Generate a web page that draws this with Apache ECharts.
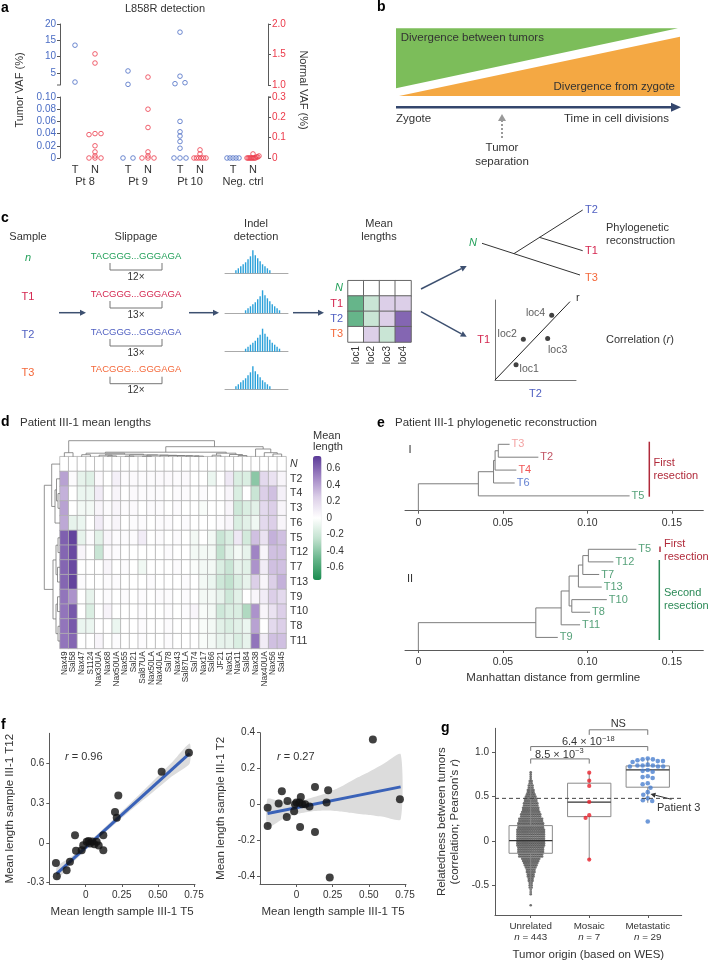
<!DOCTYPE html>
<html><head><meta charset="utf-8">
<script src="https://cdn.jsdelivr.net/npm/echarts@6/dist/echarts.min.js"></script>
<style>html,body{margin:0;padding:0;background:#fff}#c{width:711px;height:962px}</style>
</head><body><div id="c"></div>
<script>
const FONT = '"Liberation Sans", Arial, sans-serif';
const TXT = '#333333', AX = '#5a5a5a', BLUE = '#4a6cc4', RED = '#ec3a4a';

// ================= DATA =================
// Panel a
const aGroupNames = ['Pt 8', 'Pt 9', 'Pt 10', 'Neg. ctrl'];
const aGroupCenters = [1.25, 3.9, 6.5, 9.15];
const aSubLabels = ['T', 'N'];
const aTumorHigh = [[13.5, 2.2], [5.6, 1.5], [17.5, 4.0, 1.7, 2.0], []];
const aTumorLow = [[], [0, 0], [0.06, 0.043, 0.036, 0.027, 0.016, 0, 0, 0], [0, 0, 0, 0, 0]];
const aNormalHigh = [[1.51, 1.36], [1.13], [], []];
const aNormalLow = [[0.12, 0.12, 0.115, 0.06, 0.03, 0.01, 0, 0, 0], [0.24, 0.15, 0.03, 0.01, 0, 0, 0], [0.04, 0.02, 0, 0, 0, 0, 0, 0], [0.02, 0.01, 0.005, 0.005, 0, 0, 0, 0, 0, 0, 0, 0]];
const aTumorHighTicks = [5, 10, 15, 20];
const aTumorLowTicks = [0, 0.02, 0.04, 0.06, 0.08, 0.10];
const aNormalHighTicks = [1.0, 1.5, 2.0];
const aNormalLowTicks = [0, 0.1, 0.2, 0.3];

// Panel c
const cSamples = ['n', 'T1', 'T2', 'T3'];
const cSampleColors = ['#23a05a', '#d4264f', '#4f5fc1', '#f4683a'];
const cRepeats = ['12×', '13×', '13×', '12×'];
const cHist = [
  [0,0,0,0,3,5,7,9,11,14,17,23,18,15,12,9,7,5,3,0,0,0,0,0,0,0],
  [0,0,0,0,0,0,0,0,3,5,7,9,11,14,17,23,18,15,12,9,7,5,3,0,0,0],
  [0,0,0,0,0,0,0,0,3,5,7,9,11,14,17,23,18,15,12,9,7,5,3,0,0,0],
  [0,0,0,0,3,5,7,9,11,14,17,23,18,15,12,9,7,5,3,0,0,0,0,0,0,0]
];
const cLoci = ['loc1', 'loc2', 'loc3', 'loc4'];
const cRows = ['N', 'T1', 'T2', 'T3'];
const cMeanLen = [[0, 0, 0, 0], [-0.5, -0.22, 0.25, 0.25], [-0.5, -0.22, 0.25, 0.6], [0, 0.25, -0.22, 0.6]];
const cLocX = [0.26, 0.35, 0.65, 0.70];
const cLocY = [0.19, 0.51, 0.52, 0.81];

// Panel d
const dCols = ['Nax49','Sal58','Nax47','S1124','Nax30UA','Nax68','Nax50UA','Nax55','Sal21','Sal87UA','Nax50LA','Nax40LA','Sal78','Nax43','Sal87LA','Sal74','Nax17','Sal66','JF21','Nax51','Nax11','Sal84','Nax38','Nax40UA','Nax56','Sal45'];
const dRows = ['N','T2','T4','T3','T6','T5','T12','T7','T13','T9','T10','T8','T11'];
const dValues = [
  [0,0,0,0,0,0,0,0,0,0,0,0,0,0,0,0,0,0,0,0,0,0,0,0,0,0],
  [0.40,0.02,-0.10,-0.13,0.03,0.00,0.08,0.02,0.03,0.02,0.02,0.03,0.03,0.02,0.03,0.00,0.00,-0.08,0.00,0.12,-0.15,-0.15,-0.40,0.20,0.15,0.05],
  [0.35,0.00,-0.08,-0.08,0.10,0.00,0.05,0.00,0.03,0.02,0.02,0.02,0.00,0.02,0.02,0.00,0.02,0.00,0.00,0.05,-0.15,0.00,-0.22,0.25,0.30,0.08],
  [0.40,0.00,-0.05,-0.05,0.05,0.02,0.05,0.02,0.03,0.00,0.02,0.02,0.00,0.02,0.00,0.00,-0.03,0.00,0.00,0.05,-0.20,-0.15,-0.12,0.20,0.25,0.05],
  [0.38,-0.10,-0.08,0.00,0.10,0.02,0.05,0.00,0.02,0.02,0.00,0.02,0.02,0.00,0.02,0.00,0.00,0.00,0.02,0.05,-0.15,-0.12,-0.06,0.20,0.25,0.05],
  [0.62,0.72,-0.10,0.02,-0.12,0.05,0.02,0.02,0.02,0.10,0.00,0.02,0.00,0.02,0.00,-0.05,0.00,-0.05,-0.22,-0.15,0.12,-0.18,0.30,0.15,0.35,0.30],
  [0.60,0.70,0.05,0.00,-0.22,0.03,0.02,0.00,0.00,0.00,0.00,0.00,0.02,0.00,0.00,-0.05,-0.05,-0.05,-0.25,-0.12,-0.05,-0.10,0.50,0.05,0.30,0.30],
  [0.60,0.70,0.00,0.00,0.00,0.05,0.00,0.02,0.00,-0.06,0.00,0.00,0.00,0.02,0.00,-0.02,-0.05,-0.05,-0.15,-0.22,-0.10,-0.12,0.45,0.10,0.30,0.30],
  [0.60,0.72,0.02,0.00,0.00,0.02,0.02,0.00,0.00,0.00,0.02,0.00,0.00,0.00,0.02,0.00,-0.05,-0.08,-0.20,-0.25,-0.15,-0.10,0.25,0.05,0.25,0.35],
  [0.55,0.45,0.00,-0.10,0.00,0.02,0.00,0.02,0.00,0.02,0.00,0.02,0.02,0.00,0.02,0.00,-0.05,-0.05,-0.10,-0.20,-0.12,0.00,0.05,0.10,0.25,0.20],
  [0.55,0.65,0.00,-0.15,0.00,0.06,0.00,0.00,0.00,0.02,0.00,0.00,0.02,0.00,0.02,0.05,-0.03,-0.05,-0.20,-0.15,-0.15,-0.30,0.45,0.05,0.15,0.25],
  [0.55,0.65,-0.08,-0.08,0.00,0.00,-0.08,0.00,0.00,0.02,0.00,0.00,0.02,0.00,0.00,0.00,-0.03,-0.05,-0.12,-0.15,-0.12,-0.08,0.40,0.00,0.20,0.25],
  [0.55,0.60,0.00,0.00,0.05,0.00,0.02,0.00,0.00,0.02,0.00,0.00,0.02,0.00,0.00,0.00,-0.03,-0.05,-0.10,-0.10,-0.15,-0.10,0.55,0.10,0.30,0.30]
];
const dScaleTicks = [-0.6, -0.4, -0.2, 0, 0.2, 0.4, 0.6];
const dColTree = [16, [4, 0, 1], [10,
  [4.5,
    [3.5, [2.0, 2, 3], [2.5, [1.5, 4, [0.8, 5, 6]], [1.8, [0.6, 7, 8], [1.6, [0.5, 9, 10], [1.4, 11, [1.2, 12, [1.0, 13, [0.8, 14, [0.6, 15, 16]]]]]]]]],
    [3.5, [1.5, 17, 18], [2.2, 19, [1.2, 20, 21]]]],
  [7.7, 22, [4, 23, [2.7, 24, 25]]]]];
const dRowTree = [15.7, [8.3, 0, [5, [3.5, 1, [2, 2, 3]], 4]], [7, [4, [2, 5, 6], [2.5, 7, 8]], [4, [2.5, 9, 10], [2, 11, 12]]]];

// Panel e
const eTicks = [0, 0.05, 0.10, 0.15];
const eTreeILeaves = ['T3', 'T2', 'T4', 'T6', 'T5'];
const eTreeIEnds = [0.054, 0.071, 0.058, 0.057, 0.125];
const eTreeIColors = ['#f08c8c', '#b2283c', '#ee2a2a', '#3d62c6', '#2b8a57'];
const eTreeI = [0.0355, [0.0445, [0.0454, [0.0473, 0, 1], 2], 3], 4];
const eTreeIILeaves = ['T5', 'T12', 'T7', 'T13', 'T10', 'T8', 'T11', 'T9'];
const eTreeIIEnds = [0.129, 0.1154, 0.107, 0.1085, 0.1115, 0.1016, 0.0957, 0.0825];
const eTreeII = [0.0695, [0.0845, [0.0892, [0.0947, [0.0973, [0.1006, 0, 1], 2], 3], [0.0908, 4, 5]], 6], 7];

// Panel f
const fXTicks = [0, 0.25, 0.5, 0.75];
const fLeftYTicks = [-0.3, 0, 0.3, 0.6];
const fRightYTicks = [-0.4, -0.2, 0, 0.2, 0.4];
const fLeftX = [0.715,0.526,0.226,0.203,0.215,0.122,0.122,-0.074,-0.067,-0.028,-0.017,0.007,0.030,0.076,-0.206,-0.200,-0.132,-0.109,0.020,0.045,0.060,0.090];
const fLeftY = [0.680,0.537,0.358,0.234,0.189,0.058,-0.055,0.058,-0.060,-0.055,-0.017,0.008,-0.004,0.008,-0.151,-0.252,-0.206,-0.143,0.015,0.010,-0.010,-0.020];
const fRightX = [-0.199,-0.199,-0.101,-0.123,-0.067,-0.062,-0.016,-0.010,0.000,0.020,0.030,0.040,0.060,0.090,0.128,0.219,0.208,0.025,0.128,0.230,0.528,0.715];
const fRightY = [-0.019,-0.121,0.073,0.004,-0.071,0.018,-0.039,0.000,0.010,0.010,0.040,0.000,0.000,-0.012,0.097,0.078,0.010,-0.127,-0.155,-0.410,0.362,0.028];
const fFitX = [-0.2, 0.72];
const fLeftFitY = [-0.231, 0.675];
const fRightFitY = [-0.052, 0.097];
const fCIX = [-0.2, -0.1, 0, 0.1, 0.2, 0.3, 0.4, 0.5, 0.6, 0.72];
const fLeftCILo = [-0.28, -0.16, -0.055, 0.045, 0.14, 0.235, 0.325, 0.415, 0.505, 0.60];
const fLeftCIHi = [-0.18, -0.105, -0.013, 0.085, 0.186, 0.289, 0.395, 0.503, 0.61, 0.75];
const fRightCILo = [-0.13, -0.085, -0.055, -0.04, -0.035, -0.04, -0.05, -0.06, -0.07, -0.085];
const fRightCIHi = [0.03, 0.015, 0.015, 0.035, 0.06, 0.095, 0.14, 0.18, 0.225, 0.28];

// Panel g
const gCats = ['Unrelated', 'Mosaic', 'Metastatic'];
const gN = [443, 7, 29];
const gYTicks = [-0.5, 0, 0.5, 1.0];
const gBoxStats = [[-0.60, -0.139, 0.003, 0.173, 0.65], [-0.214, 0.274, 0.437, 0.651, 0.77], [0.43, 0.606, 0.801, 0.846, 0.93]];
const gUnrelBins = [0.775,0.75,0.725,0.70,0.675,0.65,0.625,0.60,0.575,0.55,0.525,0.50,0.475,0.45,0.425,0.40,0.375,0.35,0.325,0.30,0.275,0.25,0.225,0.20,0.175,0.15,0.125,0.10,0.075,0.05,0.025,0.0,-0.025,-0.05,-0.075,-0.10,-0.125,-0.15,-0.175,-0.20,-0.225,-0.25,-0.275,-0.30,-0.325,-0.35,-0.375,-0.40,-0.425,-0.45,-0.475,-0.50,-0.525,-0.55,-0.575,-0.60,-0.725];
const gUnrelCounts = [1,1,1,1,2,2,3,3,4,4,5,6,7,7,8,8,9,9,10,11,11,13,13,14,14,14,15,15,15,15,15,15,15,15,14,14,14,13,13,10,9,8,7,6,5,5,4,4,3,3,2,2,2,1,1,1,1];
const gMosaic = [0.77, 0.68, 0.62, 0.44, 0.29, 0.26, -0.21];
const gMeta = [0.93,0.92,0.92,0.91,0.90,0.90,0.89,0.86,0.85,0.85,0.85,0.84,0.84,0.84,0.80,0.79,0.78,0.73,0.72,0.71,0.65,0.64,0.60,0.55,0.52,0.48,0.46,0.45,0.22];
const gThreshold = 0.48;

// ================= HELPERS =================
const grids = [], xAxes = [], yAxes = [], series = [], G = [];
function grid(l, t, w, h) { grids.push({left: l, top: t, width: w, height: h, outerBoundsMode: 'none', containLabel: false, show: false}); return grids.length - 1; }
function ax(arr, o) { arr.push(o); return arr.length - 1; }
function hidV(g, min, max, extra) { return Object.assign({type: 'value', gridIndex: g, min, max, show: false, splitLine: {show: false}}, extra || {}); }
function visV(g, min, max, o) {
  return {type: 'value', gridIndex: g, min, max, position: o.pos, offset: o.offset || 0, inverse: !!o.inverse,
    axisLine: {show: o.line !== false, onZero: false, lineStyle: {color: AX, width: 1}},
    axisTick: {show: o.tick !== false, length: o.tickLen || 3, customValues: o.ticks, lineStyle: {color: AX, width: 1}},
    axisLabel: {show: true, customValues: o.ticks, formatter: o.fmt, color: o.color || TXT, fontSize: o.fs || 10, fontFamily: FONT,
      margin: o.margin == null ? 4 : o.margin, rich: o.rich, lineHeight: o.lh, showMinLabel: true, showMaxLabel: true},
    splitLine: {show: false},
    name: o.name || '', nameLocation: 'middle', nameGap: o.nameGap || 20,
    nameTextStyle: {color: TXT, fontSize: o.nameFs || 11, fontFamily: FONT, rich: o.nameRich, lineHeight: o.nameLh}};
}
function T(x, y, text, o) {
  o = o || {};
  return {type: 'text', x, y, rotation: o.rot || 0, silent: true, z: 100,
    style: {text, fill: o.color || TXT, fontSize: o.size || 11, fontFamily: FONT, fontWeight: o.weight || 'normal',
      fontStyle: o.italic ? 'italic' : 'normal', align: o.align || 'left', verticalAlign: o.va || 'middle', rich: o.rich, lineHeight: o.lh}};
}
function arrow(x1, y1, x2, y2, color, w, hl, hw, dash) {
  const a = Math.atan2(y2 - y1, x2 - x1);
  const bx = x2 - hl * Math.cos(a), by = y2 - hl * Math.sin(a);
  const px = -Math.sin(a) * hw, py = Math.cos(a) * hw;
  return [{type: 'line', silent: true, shape: {x1, y1, x2: bx, y2: by}, style: {stroke: color, lineWidth: w, lineDash: dash || null}},
    {type: 'polygon', silent: true, shape: {points: [[x2, y2], [bx + px, by + py], [bx - px, by - py]]}, style: {fill: color}}];
}
function polySeries(xi, yi, segs, style, z) {
  return {type: 'custom', xAxisIndex: xi, yAxisIndex: yi, silent: true, z: z || 2, clip: false,
    data: segs.map(s => [s[0][0], s[0][1]]),
    renderItem: (p, api) => ({type: 'polyline', shape: {points: segs[p.dataIndex].map(c => api.coord(c))},
      style: Object.assign({fill: null, stroke: '#888', lineWidth: 1}, style)})};
}
function dendroSegs(tree, swap) {
  const segs = [];
  function walk(n) {
    if (typeof n === 'number') return {p: n, h: 0};
    const A = walk(n[1]), B = walk(n[2]);
    let s = [[A.p, A.h], [A.p, n[0]], [B.p, n[0]], [B.p, B.h]];
    if (swap) s = s.map(c => [c[1], c[0]]);
    segs.push(s);
    return {p: (A.p + B.p) / 2, h: n[0]};
  }
  walk(tree); return segs;
}
function treeSegs(tree, ends, stemTo) {
  const segs = [];
  function walk(n) {
    if (typeof n === 'number') return {x: ends[n], y: n};
    const A = walk(n[1]), B = walk(n[2]);
    segs.push([[A.x, A.y], [n[0], A.y], [n[0], B.y], [B.x, B.y]]);
    return {x: n[0], y: (A.y + B.y) / 2};
  }
  const r = walk(tree);
  segs.push([[r.x, r.y], [0, r.y], [0, stemTo]]);
  return segs;
}
function jitterCol(vals, center, ppu) {
  const idx = vals.map((v, i) => i).sort((a, b) => vals[a] - vals[b]);
  const out = []; let cl = [];
  const flush = () => { const n = cl.length; const step = n > 1 ? Math.min(10, 12 / (n - 1)) : 0;
    cl.forEach((i, k) => out.push([center + ((k - (n - 1) / 2) * step) / 20, vals[i]])); cl = []; };
  idx.forEach(i => { if (cl.length && Math.abs(vals[i] - vals[cl[cl.length - 1]]) * ppu >= 2) flush(); cl.push(i); });
  if (cl.length) flush();
  return out;
}
function swarm(vals, ppy, d) {
  const order = vals.map((v, i) => i).sort((a, b) => vals[b] - vals[a]);
  const placed = [], out = new Array(vals.length);
  for (const i of order) {
    const y = vals[i] * ppy; const ints = [];
    for (const p of placed) { const dy = Math.abs(p.y - y); if (dy < d) { const w = Math.sqrt(d * d - dy * dy); ints.push([p.x - w, p.x + w]); } }
    const cands = [0]; ints.forEach(t => cands.push(t[0], t[1]));
    cands.sort((a, b) => Math.abs(a) - Math.abs(b));
    let x = 0;
    for (const c of cands) { if (!ints.some(t => c > t[0] + 1e-6 && c < t[1] - 1e-6)) { x = c; break; } }
    placed.push({x, y}); out[i] = x;
  }
  return out;
}
const HEAT = ['#1a8d50', '#66b58a', '#c2e2cf', '#ffffff', '#dccfe8', '#a084c4', '#5b3a98'];

// ================= PANEL A =================
const gA0 = grid(60, 24, 208, 61), gA1 = grid(60, 97, 208, 61);
const xA0 = ax(xAxes, hidV(gA0, 0, 10.4));
const yA0L = ax(yAxes, visV(gA0, 1.3, 20, {pos: 'left', ticks: aTumorHighTicks, fmt: v => String(v), color: BLUE}));
const yA0R = ax(yAxes, visV(gA0, 1.0, 2.0, {pos: 'right', ticks: aNormalHighTicks, fmt: v => v.toFixed(1), color: RED}));
const aTN = []; aGroupCenters.forEach(c => { aTN.push(c - 0.5, c + 0.5); });
const xA1 = ax(xAxes, visV(gA1, 0, 10.4, {pos: 'bottom', line: false, tick: false, ticks: aTN,
  fmt: v => aSubLabels[Math.max(0, aTN.findIndex(t => Math.abs(t - v) < 1e-6)) % 2], fs: 11, margin: 6}));
const xA1b = ax(xAxes, visV(gA1, 0, 10.4, {pos: 'bottom', offset: 12, line: false, tick: false, ticks: aGroupCenters,
  fmt: v => aGroupNames[Math.max(0, aGroupCenters.findIndex(t => Math.abs(t - v) < 1e-6))], fs: 11, margin: 6}));
const yA1L = ax(yAxes, visV(gA1, 0, 0.1, {pos: 'left', ticks: aTumorLowTicks, fmt: v => v === 0 ? '0' : v.toFixed(2), color: BLUE}));
const yA1R = ax(yAxes, visV(gA1, 0, 0.3, {pos: 'right', ticks: aNormalLowTicks, fmt: v => v === 0 ? '0' : v.toFixed(1), color: RED}));
function aPts(groups, off, ppu) { const d = []; groups.forEach((vals, gi) => d.push(...jitterCol(vals, aGroupCenters[gi] + off, ppu))); return d; }
function hollow(xi, yi, data, color) {
  return {type: 'scatter', xAxisIndex: xi, yAxisIndex: yi, data, symbol: 'circle', symbolSize: 4.6, clip: false, silent: true, z: 5,
    itemStyle: {color: 'rgba(0,0,0,0)', borderColor: color, borderWidth: 1}};
}
series.push(hollow(xA0, yA0L, aPts(aTumorHigh, -0.5, 61 / 18.7), BLUE));
series.push(hollow(xA0, yA0R, aPts(aNormalHigh, 0.5, 61), RED));
series.push(hollow(xA1, yA1L, aPts(aTumorLow, -0.5, 610), BLUE));
series.push(hollow(xA1, yA1R, aPts(aNormalLow, 0.5, 203), RED));
G.push({type: 'line', silent: true, shape: {x1: 57, y1: 85, x2: 60, y2: 85}, style: {stroke: AX, lineWidth: 1}});
G.push({type: 'line', silent: true, shape: {x1: 268, y1: 97, x2: 271, y2: 97}, style: {stroke: AX, lineWidth: 1}});
G.push(T(1, 8, 'a', {weight: 'bold', size: 14, color: '#000'}));
G.push(T(165, 9, 'L858R detection', {align: 'center', size: 11}));
G.push(T(20, 90, 'Tumor VAF (%)', {align: 'center', rot: Math.PI / 2, color: TXT, size: 11}));
G.push(T(303, 90, 'Normal VAF (%)', {align: 'center', rot: -Math.PI / 2, color: TXT, size: 11}));

// ================= PANEL B =================
G.push({type: 'polygon', silent: true, shape: {points: [[396, 28.3], [678, 28.3], [396, 88.3]]}, style: {fill: '#7cbd5a'}});
G.push({type: 'polygon', silent: true, shape: {points: [[399, 96], [680, 36.7], [680, 96]]}, style: {fill: '#f4a843'}});
G.push(T(400.7, 37.5, 'Divergence between tumors', {size: 11.5}));
G.push(T(675, 87, 'Divergence from zygote', {size: 11.5, align: 'right'}));
G.push(...arrow(396, 107.3, 681, 107.3, '#34466d', 2.5, 10, 4.5));
G.push(T(396, 119, 'Zygote', {size: 11.5}));
G.push(T(669, 119, 'Time in cell divisions', {size: 11.5, align: 'right'}));
G.push(...arrow(502, 138, 502, 114, '#999', 2, 7, 4, [2, 2]));
G.push(T(502, 148.3, 'Tumor', {size: 11.5, align: 'center'}));
G.push(T(502, 161.7, 'separation', {size: 11.5, align: 'center'}));
G.push(T(377, 7, 'b', {weight: 'bold', size: 14, color: '#000'}));

// ================= PANEL C =================
G.push(T(1, 218.3, 'c', {weight: 'bold', size: 14, color: '#000'}));
G.push(T(28, 236.7, 'Sample', {align: 'center', size: 11}));
G.push(T(136, 236.7, 'Slippage', {align: 'center', size: 11}));
G.push(T(256, 224, 'Indel', {align: 'center', size: 11}));
G.push(T(256, 236.7, 'detection', {align: 'center', size: 11}));
G.push(T(379, 224, 'Mean', {align: 'center', size: 11}));
G.push(T(379, 236.7, 'lengths', {align: 'center', size: 11}));
const cSeqY = [256, 294, 332, 369.7];
cSamples.forEach((s, i) => {
  const sy = [258.3, 296.7, 335, 373.3][i];
  G.push(T(28, sy, s, {align: 'center', size: 11, color: cSampleColors[i], italic: s === 'n'}));
  const y = cSeqY[i];
  G.push(T(136, y, 'TACGGG...GGGAGA', {align: 'center', size: 9.5, color: cSampleColors[i]}));
  G.push({type: 'polyline', silent: true, shape: {points: [[110, y + 7], [110, y + 14], [162, y + 14], [162, y + 7]]}, style: {stroke: '#777', lineWidth: 1, fill: null}});
  G.push(T(136, y + 21, cRepeats[i], {align: 'center', size: 10}));
});
G.push(...arrow(59, 312.7, 86, 312.7, '#3d5070', 1.5, 6, 3));
G.push(...arrow(189, 312.7, 219, 312.7, '#3d5070', 1.5, 6, 3));
G.push(...arrow(293, 312.7, 324, 312.7, '#3d5070', 1.5, 6, 3));
G.push(...arrow(421, 289, 466.7, 266, '#3d5070', 1.5, 6, 3));
G.push(...arrow(421, 311.7, 466.7, 336.7, '#3d5070', 1.5, 6, 3));
const cHistBase = [273.3, 313.3, 351.7, 389.3];
const cSlots = cHist[0].map((v, i) => String(i));
cHist.forEach((h, i) => {
  const g = grid(225, cHistBase[i] - 23, 63, 23);
  const xi = ax(xAxes, {type: 'category', gridIndex: g, data: cSlots, axisLine: {show: true, onZero: false, lineStyle: {color: '#aaa', width: 1}}, axisTick: {show: false}, axisLabel: {show: false}, splitLine: {show: false}});
  const yi = ax(yAxes, hidV(g, 0, 23));
  series.push({type: 'bar', xAxisIndex: xi, yAxisIndex: yi, data: h, barWidth: 1.4, silent: true, itemStyle: {color: '#2aa1da'}});
});
const gCH = grid(348, 280.7, 63, 61.3);
const xCH = ax(xAxes, {type: 'category', gridIndex: gCH, data: cLoci, axisLine: {show: false}, axisTick: {show: false}, splitLine: {show: false},
  axisLabel: {rotate: 90, fontSize: 10, color: TXT, fontFamily: FONT, margin: 4, interval: 0}});
const cRowRich = {}; cRows.forEach((r, i) => { cRowRich['r' + i] = {color: cSampleColors[i], fontSize: 11, fontFamily: FONT, fontStyle: r === 'N' ? 'italic' : 'normal'}; });
const yCH = ax(yAxes, {type: 'category', gridIndex: gCH, data: cRows, inverse: true, axisLine: {show: false}, axisTick: {show: false}, splitLine: {show: false},
  axisLabel: {fontSize: 11, margin: 5, formatter: (v, i) => '{r' + cRows.indexOf(v) + '|' + v + '}', rich: cRowRich}});
const cHeatData = []; cMeanLen.forEach((row, r) => row.forEach((v, c) => cHeatData.push([c, r, v])));
const sCH = series.length;
series.push({type: 'heatmap', xAxisIndex: xCH, yAxisIndex: yCH, data: cHeatData, silent: true, itemStyle: {borderColor: '#666', borderWidth: 1}});
const gCC = grid(495, 300, 81, 80);
const xCC = ax(xAxes, {type: 'value', gridIndex: gCC, min: 0, max: 1, axisLine: {show: true, onZero: false, lineStyle: {color: '#777'}}, axisTick: {show: false}, axisLabel: {show: false}, splitLine: {show: false},
  name: 'T2', nameLocation: 'middle', nameGap: 8, nameTextStyle: {color: cSampleColors[2], fontSize: 11, fontFamily: FONT}});
const yCC = ax(yAxes, {type: 'value', gridIndex: gCC, min: 0, max: 1, axisLine: {show: true, onZero: false, lineStyle: {color: '#777'}}, axisTick: {show: false}, axisLabel: {show: false}, splitLine: {show: false},
  name: 'T1', nameLocation: 'middle', nameGap: 5, nameRotate: 0, nameTextStyle: {color: cSampleColors[1], fontSize: 11, fontFamily: FONT, align: 'right'}});
series.push({type: 'line', xAxisIndex: xCC, yAxisIndex: yCC, data: [[0, 0], [0.926, 0.98]], symbol: 'none', silent: true, lineStyle: {color: '#222', width: 1},
  endLabel: {show: true, formatter: 'r', fontSize: 11, color: TXT, offset: [-2, -4]}});
const cLabPos = [{position: 'right', offset: [-3, 4]}, {position: 'left', offset: [0, -5]}, {position: 'bottom', offset: [10, 0]}, {position: 'left', offset: [0, -2]}];
series.push({type: 'scatter', xAxisIndex: xCC, yAxisIndex: yCC, symbolSize: 5, silent: true, itemStyle: {color: '#111'},
  data: cLoci.map((n, i) => ({value: [cLocX[i], cLocY[i]], name: n, label: Object.assign({show: true, formatter: n, fontSize: 10.5, color: TXT, distance: 4}, cLabPos[i])}))});
G.push({type: 'line', silent: true, shape: {x1: 482, y1: 243.3, x2: 580, y2: 275}, style: {stroke: '#333', lineWidth: 1}});
G.push({type: 'line', silent: true, shape: {x1: 514, y1: 253.6, x2: 582.7, y2: 210}, style: {stroke: '#333', lineWidth: 1}});
G.push({type: 'line', silent: true, shape: {x1: 539.3, y1: 237.3, x2: 582.7, y2: 250.7}, style: {stroke: '#333', lineWidth: 1}});
G.push(T(477, 242.7, 'N', {align: 'right', italic: true, color: cSampleColors[0], size: 11}));
G.push(T(585, 210, 'T2', {color: cSampleColors[2], size: 11}));
G.push(T(585, 251, 'T1', {color: cSampleColors[1], size: 11}));
G.push(T(585, 278, 'T3', {color: cSampleColors[3], size: 11}));
G.push(T(606, 227.7, 'Phylogenetic', {size: 11}));
G.push(T(606, 240.7, 'reconstruction', {size: 11}));
G.push(T(606, 340, 'Correlation ({i|r})', {size: 11, rich: {i: {fontStyle: 'italic', fontSize: 11, fontFamily: FONT, fill: TXT}}}));

// ================= PANEL D =================
G.push(T(1, 422, 'd', {weight: 'bold', size: 14, color: '#000'}));
G.push(T(20, 422.7, 'Patient III-1 mean lengths', {size: 11.5}));
G.push(T(313, 435.7, 'Mean', {size: 11}));
G.push(T(313, 447.3, 'length', {size: 11}));
const gD = grid(60, 456.7, 226, 191.7);
const xD = ax(xAxes, {type: 'category', gridIndex: gD, data: dCols, axisLine: {show: false}, axisTick: {show: false}, splitLine: {show: false},
  axisLabel: {rotate: 90, fontSize: 8.2, color: TXT, fontFamily: FONT, margin: 3, interval: 0}});
const yD = ax(yAxes, {type: 'category', gridIndex: gD, data: dRows, inverse: true, position: 'right', axisLine: {show: false}, axisTick: {show: false}, splitLine: {show: false},
  axisLabel: {fontSize: 10.5, color: TXT, fontFamily: FONT, margin: 4, interval: 0, formatter: v => v === 'N' ? '{i|N}' : v, rich: {i: {fontStyle: 'italic', fontSize: 10.5, fontFamily: FONT, color: TXT}}}});
const dHeat = []; dValues.forEach((row, r) => row.forEach((v, c) => dHeat.push([c, r, v])));
const sD = series.length;
series.push({type: 'heatmap', xAxisIndex: xD, yAxisIndex: yD, data: dHeat, silent: true, itemStyle: {borderColor: '#b0b0b0', borderWidth: 0.8}});
const gDT = grid(60, 440.7, 226, 16);
const xDT = ax(xAxes, hidV(gDT, -0.5, 25.5)); const yDT = ax(yAxes, hidV(gDT, 0, 16));
series.push(polySeries(xDT, yDT, dendroSegs(dColTree, false), {stroke: '#777', lineWidth: 0.8}));
const gDL = grid(43, 456.7, 17, 191.7);
const xDL = ax(xAxes, hidV(gDL, 0, 17, {inverse: true})); const yDL = ax(yAxes, hidV(gDL, -0.5, 12.5, {inverse: true}));
series.push(polySeries(xDL, yDL, dendroSegs(dRowTree, true), {stroke: '#777', lineWidth: 0.8}));
const gDC = grid(313, 456, 8.5, 124);
ax(xAxes, hidV(gDC, 0, 1));
ax(yAxes, visV(gDC, -0.75, 0.75, {pos: 'right', line: false, tick: false, ticks: dScaleTicks, fmt: v => v === 0 ? '0' : v.toFixed(1), fs: 10, margin: 5}));

// ================= PANEL E =================
G.push(T(377, 422.7, 'e', {weight: 'bold', size: 14, color: '#000'}));
G.push(T(395, 422.7, 'Patient III-1 phylogenetic reconstruction', {size: 11.5}));
const eFmt = v => v === 0 ? '0' : v.toFixed(2);
function eTree(top, h, ymin, ymax, tree, ends, leaves, colors) {
  const g = grid(405, top, 298.3, h);
  const xi = ax(xAxes, visV(g, -0.0079, 0.1686, {pos: 'bottom', ticks: eTicks, fmt: eFmt, fs: 10.5, margin: 7, tickLen: 3}));
  const yi = ax(yAxes, hidV(g, ymin, ymax, {inverse: true}));
  series.push(polySeries(xi, yi, treeSegs(tree, ends, ymax), {stroke: '#7d7d7d', lineWidth: 1}));
  series.push({type: 'scatter', xAxisIndex: xi, yAxisIndex: yi, symbolSize: 0, silent: true, clip: false,
    data: leaves.map((n, i) => ({value: [ends[i], i], label: {show: true, position: 'right', distance: 2, formatter: n, color: colors[i], fontSize: 11, fontFamily: FONT}}))});
}
eTree(439.8, 70.9, -0.35, 5.15, eTreeI, eTreeIEnds, eTreeILeaves, eTreeIColors);
eTree(543, 107, -0.5, 8.0, eTreeII, eTreeIIEnds, eTreeIILeaves, eTreeIILeaves.map(() => '#2b8a57'));
G.push(T(410, 450, 'I', {size: 11, align: 'center'}));
G.push(T(410, 579.3, 'II', {size: 11, align: 'center'}));
const RES1 = '#b02a3a', RES2 = '#2b8a57';
G.push({type: 'line', silent: true, shape: {x1: 649.3, y1: 441.7, x2: 649.3, y2: 496.7}, style: {stroke: RES1, lineWidth: 1.5}});
G.push(T(653.5, 462.7, 'First', {color: RES1, size: 11}));
G.push(T(653.5, 475.7, 'resection', {color: RES1, size: 11}));
G.push({type: 'line', silent: true, shape: {x1: 660, y1: 546.5, x2: 660, y2: 552}, style: {stroke: RES1, lineWidth: 1.5}});
G.push(T(664, 544.3, 'First', {color: RES1, size: 11}));
G.push(T(664, 557, 'resection', {color: RES1, size: 11}));
G.push({type: 'line', silent: true, shape: {x1: 659.3, y1: 560, x2: 659.3, y2: 640}, style: {stroke: RES2, lineWidth: 1.5}});
G.push(T(664, 593.3, 'Second', {color: RES2, size: 11}));
G.push(T(664, 606, 'resection', {color: RES2, size: 11}));
G.push(T(553.3, 678.3, 'Manhattan distance from germline', {align: 'center', size: 11.5}));

// ================= PANEL F =================
G.push(T(1, 725, 'f', {weight: 'bold', size: 14, color: '#000'}));
const fxFmt = v => v === 0 ? '0' : v.toFixed(2);
const fyFmt = v => v === 0 ? '0' : v.toFixed(1);
function fPanel(l, t, w, h, ymin, ymax, yTicks, yName, xs, ys, fitY, ciLo, ciHi, rText, rX) {
  const g = grid(l, t, w, h);
  const xi = ax(xAxes, visV(g, -0.252, 0.757, {pos: 'bottom', ticks: fXTicks, fmt: fxFmt, fs: 10, margin: 6, tickLen: 3, name: 'Mean length sample III-1 T5', nameGap: 22, nameFs: 11.5}));
  const yi = ax(yAxes, visV(g, ymin, ymax, {pos: 'left', ticks: yTicks, fmt: fyFmt, fs: 10, margin: 5, tickLen: 3, name: yName, nameGap: 33, nameFs: 11.5}));
  series.push({type: 'custom', xAxisIndex: xi, yAxisIndex: yi, silent: true, z: 1, clip: false, data: [[0, 0]],
    renderItem: (p, api) => { const pts = []; fCIX.forEach((x, i) => pts.push(api.coord([x, ciHi[i]])));
      for (let i = fCIX.length - 1; i >= 0; i--) pts.push(api.coord([fCIX[i], ciLo[i]]));
      return {type: 'polygon', shape: {points: pts, smooth: 0.2}, style: {fill: '#dcdcdc'}}; }});
  series.push({type: 'line', xAxisIndex: xi, yAxisIndex: yi, data: fFitX.map((x, i) => [x, fitY[i]]), symbol: 'none', silent: true, z: 3, lineStyle: {color: '#3a62b8', width: 3}});
  series.push({type: 'scatter', xAxisIndex: xi, yAxisIndex: yi, data: xs.map((x, i) => [x, ys[i]]), symbolSize: 8, silent: true, z: 4, clip: false, itemStyle: {color: '#111'}});
  G.push(T(rX, 756.7, '{i|r} = ' + rText, {size: 11, rich: {i: {fontStyle: 'italic', fontSize: 11, fontFamily: FONT, fill: TXT}}}));
}
fPanel(49.3, 733.3, 145.7, 150.7, -0.31, 0.827, fLeftYTicks, 'Mean length sample III-1 T12', fLeftX, fLeftY, fLeftFitY, fLeftCILo, fLeftCIHi, '0.96', 65);
fPanel(260, 732.7, 146, 151.3, -0.446, 0.4, fRightYTicks, 'Mean length sample III-1 T2', fRightX, fRightY, fRightFitY, fRightCILo, fRightCIHi, '0.27', 277);

// ================= PANEL G =================
G.push(T(441, 728.3, 'g', {weight: 'bold', size: 14, color: '#000'}));
const gG = grid(495, 728.3, 186.7, 186.7);
const gXs = [0, 1, 2];
const xG = ax(xAxes, visV(gG, -0.61, 2.58, {pos: 'bottom', ticks: gXs, tickLen: 3, fs: 9.8, margin: 6, lh: 11,
  fmt: v => { const i = Math.round(v); return gCats[i] + '\n{i|n} = ' + gN[i]; },
  rich: {i: {fontStyle: 'italic', fontSize: 9.8, fontFamily: FONT, color: TXT, lineHeight: 11}},
  name: 'Tumor origin (based on WES)', nameGap: 34, nameFs: 11.5}));
const yG = ax(yAxes, visV(gG, -0.835, 1.27, {pos: 'left', ticks: gYTicks, fs: 10, margin: 6, tickLen: 3,
  fmt: v => v === 0 ? '0' : v.toFixed(1),
  name: 'Relatedness between tumors\n(correlation; Pearson\'s {i|r})', nameGap: 34, nameFs: 11.5, nameLh: 13,
  nameRich: {i: {fontStyle: 'italic', fontSize: 11.5, fontFamily: FONT, color: TXT}}}));
const gPxX = 58.5, gPxY = 88.6;
const unrel = [];
gUnrelBins.forEach((b, i) => { const n = gUnrelCounts[i]; for (let k = 0; k < n; k++) unrel.push([gXs[0] + (k - (n - 1) / 2) * 1.9 / gPxX, b]); });
series.push({type: 'scatter', xAxisIndex: xG, yAxisIndex: yG, data: unrel, symbolSize: 2.6, silent: true, z: 2, clip: false, itemStyle: {color: '#4d4d4d'}});
series.push({type: 'custom', xAxisIndex: xG, yAxisIndex: yG, silent: true, z: 3, clip: false,
  data: gBoxStats.map((s, i) => [gXs[i], ...s]),
  renderItem: (p, api) => {
    const x = api.value(0), lo = api.value(1), q1 = api.value(2), md = api.value(3), q3 = api.value(4), hi = api.value(5), hw = 0.37;
    const a = api.coord([x - hw, q3]), b = api.coord([x + hw, q1]);
    const c1 = api.coord([x, lo]), c2 = api.coord([x, q1]), c3 = api.coord([x, q3]), c4 = api.coord([x, hi]);
    const m1 = api.coord([x - hw, md]), m2 = api.coord([x + hw, md]);
    const st = {stroke: '#8a8a8a', lineWidth: 1};
    return {type: 'group', children: [
      {type: 'line', shape: {x1: c1[0], y1: c1[1], x2: c2[0], y2: c2[1]}, style: st},
      {type: 'line', shape: {x1: c3[0], y1: c3[1], x2: c4[0], y2: c4[1]}, style: st},
      {type: 'rect', shape: {x: a[0], y: a[1], width: b[0] - a[0], height: b[1] - a[1]}, style: {fill: 'transparent', stroke: '#8a8a8a', lineWidth: 1}},
      {type: 'line', shape: {x1: m1[0], y1: m1[1], x2: m2[0], y2: m2[1]}, style: {stroke: '#333', lineWidth: 1.3}}]};
  }});
const mosOff = swarm(gMosaic, gPxY, 4.5);
series.push({type: 'scatter', xAxisIndex: xG, yAxisIndex: yG, data: gMosaic.map((v, i) => [gXs[1] + mosOff[i] / gPxX, v]), symbolSize: 4.2, silent: true, z: 4, clip: false, itemStyle: {color: '#e8202a'}});
const metOff = swarm(gMeta, gPxY, 5.2);
series.push({type: 'scatter', xAxisIndex: xG, yAxisIndex: yG, data: gMeta.map((v, i) => [gXs[2] + metOff[i] / gPxX, v]), symbolSize: 4.6, silent: true, z: 4, clip: false, itemStyle: {color: '#4a7fd0'}});
series.push({type: 'line', xAxisIndex: xG, yAxisIndex: yG, data: [[-0.61, gThreshold], [2.58, gThreshold]], symbol: 'none', silent: true, z: 5, lineStyle: {color: '#444', width: 1, type: [4, 3]}});
const gBr = [[[0, 0.872], [0, 0.925], [1, 0.925], [1, 0.872]], [[0, 1.016], [0, 1.064], [2, 1.064], [2, 1.016]], [[1, 1.196], [1, 1.253], [2, 1.253], [2, 1.196]]];
series.push(polySeries(xG, yG, gBr, {stroke: '#777', lineWidth: 1}, 5));
const supRich = {b: {fontSize: 11, fontFamily: FONT, fill: TXT, verticalAlign: 'bottom'}, s: {fontSize: 7.5, fontFamily: FONT, fill: TXT, verticalAlign: 'bottom', padding: [0, 0, 5, 0]}};
G.push(T(559.3, 760, '{b|8.5 × 10}{s|−3}', {align: 'center', va: 'bottom', rich: supRich}));
G.push(T(588.3, 747.5, '{b|6.4 × 10}{s|−18}', {align: 'center', va: 'bottom', rich: supRich}));
G.push(T(618.3, 724.3, 'NS', {align: 'center', size: 11}));
G.push(T(657, 808.3, 'Patient 3', {size: 11}));
G.push(...arrow(671.5, 799.3, 650.5, 794, '#333', 1, 5, 2.5));

// ================= OPTION =================
const chart = echarts.init(document.getElementById('c'), null, {renderer: 'canvas'});
chart.setOption({
  animation: false, backgroundColor: '#fff', textStyle: {fontFamily: FONT},
  grid: grids, xAxis: xAxes, yAxis: yAxes,
  visualMap: [
    {type: 'continuous', seriesIndex: sD, min: -0.75, max: 0.75, left: 313, top: 456, itemWidth: 8.5, itemHeight: 124, padding: 0,
      calculable: false, hoverLink: false, inRange: {color: HEAT}, text: null, showLabel: false, textStyle: {fontSize: 0}},
    {type: 'continuous', seriesIndex: sCH, min: -0.75, max: 0.75, show: false, inRange: {color: HEAT}}
  ],
  series, graphic: {elements: G}
});
</script></body></html>
